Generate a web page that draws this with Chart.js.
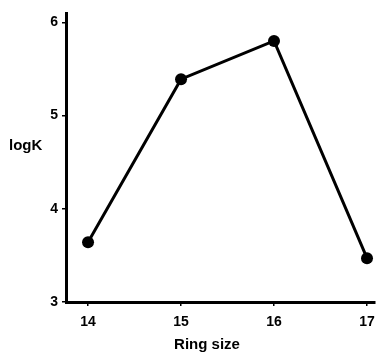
<!DOCTYPE html>
<html>
<head>
<meta charset="utf-8">
<script src="https://cdn.jsdelivr.net/npm/chart.js@4/dist/chart.umd.min.js"></script>
<style>
  html, body { margin: 0; padding: 0; background: #fff; }
  #wrap { position: relative; width: 376px; height: 352px; }
</style>
</head>
<body>
<div id="wrap"><canvas id="ringChart" width="376" height="352"></canvas></div>
<script>
// ring size vs log K
var ringSizes = [14, 15, 16, 17];
var logK = [3.64, 5.39, 5.80, 3.47];
var xTickValues = [14, 15, 16, 17];
var yTickValues = [3, 4, 5, 6];
var xTitle = "Ring size";
var yTitle = "logK";

var FONT = "'Liberation Sans Narrow', 'Liberation Sans', Arial, sans-serif";

// axis titles drawn by hand: "logK" sits horizontal left of the axis
var titlesPlugin = {
  id: "titles",
  afterDraw: function (chart) {
    var ctx = chart.ctx;
    ctx.save();
    ctx.fillStyle = "#000";
    ctx.font = "bold 15px " + FONT;
    ctx.textBaseline = "middle";
    ctx.textAlign = "left";
    ctx.fillText(yTitle, 9, 146);
    ctx.textAlign = "center";
    ctx.fillText(xTitle, 207, 345);
    ctx.restore();
  }
};

var points = ringSizes.map(function (x, i) { return { x: x, y: logK[i] }; });

new Chart(document.getElementById("ringChart"), {
  type: "scatter",
  data: {
    datasets: [{
      data: points,
      showLine: true,
      borderColor: "#000",
      backgroundColor: "#000",
      borderWidth: 3,
      pointRadius: 6,
      pointBorderWidth: 0,
      tension: 0
    }]
  },
  options: {
    responsive: false,
    animation: false,
    layout: { autoPadding: false, padding: { top: 13, right: 1, left: 0, bottom: 0 } },
    plugins: { legend: { display: false }, tooltip: { enabled: false } },
    scales: {
      x: {
        type: "linear",
        min: 13.763,
        max: 17.086,
        afterBuildTicks: function (s) { s.ticks = xTickValues.map(function (v) { return { value: v }; }); },
        afterFit: function (s) { s.height = 50; s.paddingLeft = 0; s.paddingRight = 0; },
        border: { display: true, width: 3, color: "#000" },
        grid: { drawOnChartArea: false, drawTicks: true, tickLength: 4, color: "#000", lineWidth: 1.5 },
        ticks: { color: "#000", padding: 8, font: { family: FONT, size: 14, weight: "bold" } }
      },
      y: {
        type: "linear",
        min: 3,
        max: 6.1,
        afterBuildTicks: function (s) { s.ticks = yTickValues.map(function (v) { return { value: v }; }); },
        afterFit: function (s) { s.width = 66; s.paddingTop = 0; s.paddingBottom = 0; },
        border: { display: true, width: 3, color: "#000" },
        grid: { drawOnChartArea: false, drawTicks: true, tickLength: 4, color: "#000", lineWidth: 1.5 },
        ticks: { color: "#000", padding: 4, font: { family: FONT, size: 14, weight: "bold" } }
      }
    }
  },
  plugins: [titlesPlugin]
});
</script>
</body>
</html>
